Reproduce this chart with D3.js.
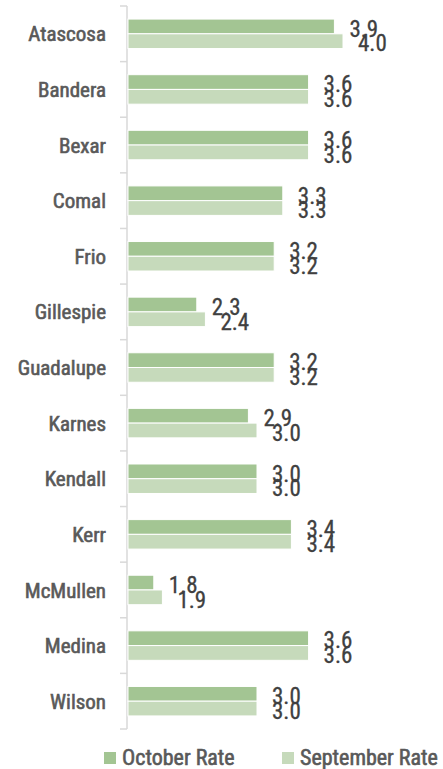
<!DOCTYPE html>
<html>
<head>
<meta charset="utf-8">
<script src="https://cdn.jsdelivr.net/npm/d3@7"></script>
<style>
  body { margin: 0; background: #fff; }
  text { font-family: "Liberation Sans Narrow", "Roboto Condensed", "Liberation Sans", sans-serif; }
</style>
</head>
<body>
<script>
// counties (top to bottom)
var counties = ["Atascosa", "Bandera", "Bexar", "Comal", "Frio", "Gillespie", "Guadalupe",
                "Karnes", "Kendall", "Kerr", "McMullen", "Medina", "Wilson"];

// unemployment rates
var octoberRate   = [3.9, 3.6, 3.6, 3.3, 3.2, 2.3, 3.2, 2.9, 3.0, 3.4, 1.8, 3.6, 3.0];
var septemberRate = [4.0, 3.6, 3.6, 3.3, 3.2, 2.4, 3.2, 3.0, 3.0, 3.4, 1.9, 3.6, 3.0];

var seriesNames = ["October Rate", "September Rate"];
var seriesColors = ["#a3c593", "#c6dabb"];

var w = 443, h = 769;
var left = 127, padTop = 6, plotBottom = 729;

var svg = d3.select("body").append("svg")
    .attr("width", w)
    .attr("height", h);

// value axis does not start at zero in the original
var x = d3.scaleLinear()
    .domain([1.5, 4.5])
    .range([left, left + 258]);

var y = d3.scaleBand()
    .domain(counties)
    .range([padTop, plotBottom])
    .paddingInner(0.47)
    .paddingOuter(0.235);

var inner = d3.scaleBand()
    .domain(seriesNames)
    .range([0, y.bandwidth()]);

// category axis with ticks between groups
var step = y.step();
var axis = svg.append("g");
axis.append("line")
    .attr("x1", left).attr("x2", left)
    .attr("y1", padTop).attr("y2", plotBottom)
    .attr("stroke", "#d9d9d9").attr("stroke-width", 1.5);
axis.selectAll(".tick")
    .data(d3.range(counties.length + 1))
    .enter().append("line")
    .attr("x1", left - 7).attr("x2", left)
    .attr("y1", d => padTop + d * step).attr("y2", d => padTop + d * step)
    .attr("stroke", "#d9d9d9").attr("stroke-width", 1.5);

// slightly heavier than regular, like the original's medium face
axis.selectAll(".cat")
    .data(counties)
    .enter().append("text")
    .attr("x", 106)
    .attr("y", d => y(d) + y.bandwidth() / 2)
    .attr("dy", "0.36em")
    .attr("text-anchor", "end")
    .attr("fill", "#595959")
    .attr("stroke", "#595959")
    .attr("stroke-width", 0.6)
    .style("font-size", "21px")
    .text(d => d);

var rows = counties.map(function(c, i) {
  return [
    {county: c, series: seriesNames[0], value: octoberRate[i], color: seriesColors[0]},
    {county: c, series: seriesNames[1], value: septemberRate[i], color: seriesColors[1]}
  ];
});

var groups = svg.selectAll(".grp")
    .data(rows)
    .enter().append("g")
    .attr("transform", d => "translate(0," + y(d[0].county) + ")");

groups.selectAll("rect")
    .data(d => d)
    .enter().append("rect")
    .attr("x", x(1.5) + 1)
    .attr("y", d => inner(d.series))
    .attr("width", d => x(d.value) - x(1.5))
    .attr("height", inner.bandwidth())
    .attr("fill", d => d.color)
    .attr("stroke", "#fff")
    .attr("stroke-width", 1);

groups.selectAll(".val")
    .data(d => d)
    .enter().append("text")
    .attr("x", d => x(d.value) + 16)
    .attr("y", d => inner(d.series) + inner.bandwidth() / 2 + 2)
    .attr("dy", "0.36em")
    .attr("fill", "#404040")
    .attr("stroke", "#404040")
    .attr("stroke-width", 0.3)
    .style("font-size", "23px")
    .text(d => d3.format(".1f")(d.value));

// legend
var legendX = [104, 282];
var legend = svg.selectAll(".leg")
    .data(seriesNames)
    .enter().append("g")
    .attr("transform", (d, i) => "translate(" + legendX[i] + ",752)");
legend.append("rect")
    .attr("width", 12).attr("height", 12)
    .attr("fill", (d, i) => seriesColors[i]);
legend.append("text")
    .attr("x", 18)
    .attr("y", 5)
    .attr("dy", "0.36em")
    .attr("fill", "#595959")
    .attr("stroke", "#595959")
    .attr("stroke-width", 0.6)
    .style("font-size", "22px")
    .text(d => d);
</script>
</body>
</html>
